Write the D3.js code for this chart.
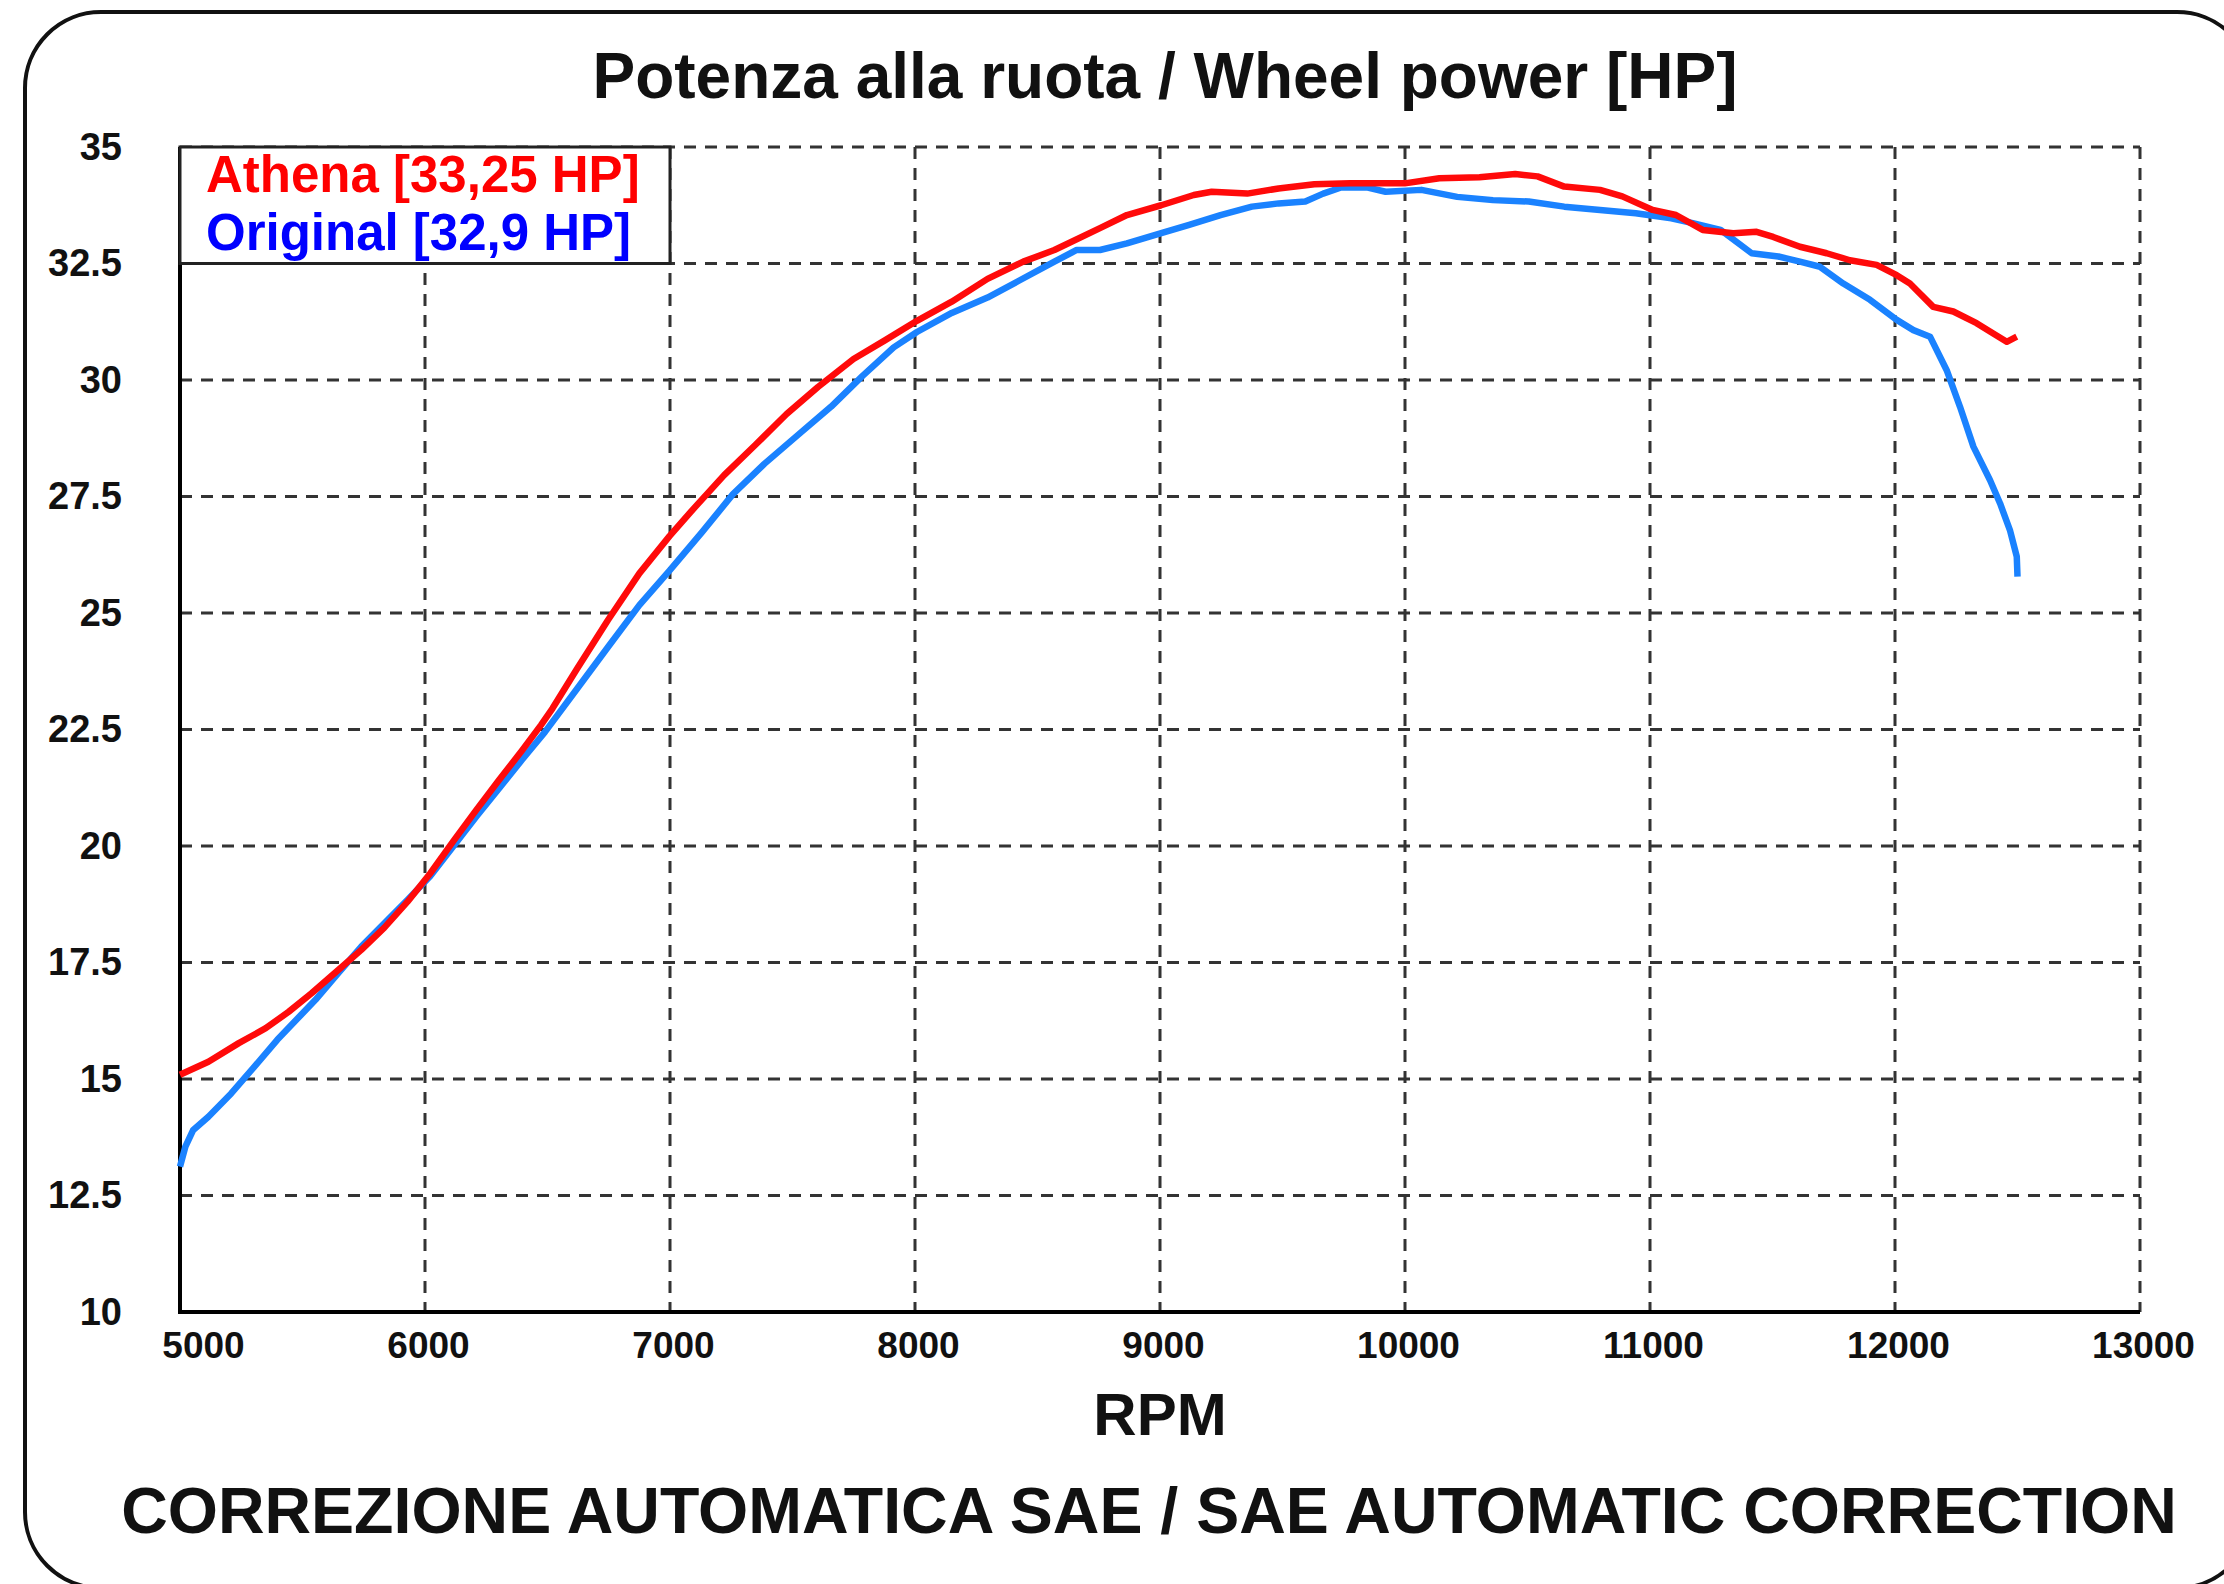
<!DOCTYPE html>
<html>
<head>
<meta charset="utf-8">
<script src="https://cdn.jsdelivr.net/npm/d3@7"></script>
<style>
  html, body { margin: 0; padding: 0; background: #fff; }
  svg { display: block; font-family: "Liberation Sans", Arial, sans-serif; }
</style>
</head>
<body>
<div class="chart"></div>
<script>
const fullWidth = 2224;
const fullHeight = 1584;
// plot area in pixels
let margin = { top: 147, right: 84, bottom: 272, left: 180 };
let width = fullWidth - margin.left - margin.right;
let height = fullHeight - margin.top - margin.bottom;

const xTicks = [5000, 6000, 7000, 8000, 9000, 10000, 11000, 12000, 13000];
const yTicks = [10, 12.5, 15, 17.5, 20, 22.5, 25, 27.5, 30, 32.5, 35];
const yTickLabels = ['10', '12.5', '15', '17.5', '20', '22.5', '25', '27.5', '30', '32.5', '35'];

const seriesNames = ['Athena [33,25 HP]', 'Original [32,9 HP]'];

// Athena (red)
const athenaRpm = [5000, 5116, 5240, 5350, 5443, 5537, 5646, 5740, 5834, 5928, 6021, 6115, 6209, 6303, 6396, 6474,
  6520, 6620, 6747, 6875, 6998, 7093, 7221, 7349, 7476, 7604, 7749, 7877, 8008, 8150, 8296, 8442, 8569, 8755,
  8865, 9005, 9138, 9211, 9356, 9484, 9630, 9776, 9999, 10140, 10304, 10450, 10541, 10650, 10796, 10887, 11011,
  11106, 11215, 11340, 11435, 11503, 11612, 11721, 11816, 11925, 12007, 12061, 12156, 12238, 12333, 12401, 12456, 12497];
const athenaHp = [15.09, 15.37, 15.77, 16.09, 16.44, 16.84, 17.34, 17.77, 18.25, 18.8, 19.41, 20.1, 20.77, 21.42, 22.05, 22.6,
  22.95, 23.8, 24.85, 25.85, 26.65, 27.22, 27.96, 28.61, 29.27, 29.85, 30.45, 30.85, 31.27, 31.68, 32.17, 32.54, 32.79, 33.26,
  33.54, 33.75, 33.97, 34.04, 34.0, 34.11, 34.2, 34.22, 34.22, 34.33, 34.35, 34.42, 34.37, 34.15, 34.08, 33.94, 33.65,
  33.54, 33.22, 33.15, 33.18, 33.07, 32.86, 32.72, 32.57, 32.47, 32.25, 32.07, 31.57, 31.47, 31.22, 31.0, 30.82, 30.93];

// Original (blue)
const originalRpm = [5000, 5022, 5053, 5116, 5209, 5303, 5397, 5475, 5553, 5646, 5740, 5834, 5928, 6021, 6115, 6209, 6303,
  6396, 6490, 6620, 6747, 6875, 6998, 7130, 7257, 7385, 7531, 7658, 7786, 7913, 8008, 8150, 8296, 8424, 8569, 8660,
  8755, 8865, 9005, 9119, 9247, 9375, 9484, 9593, 9666, 9739, 9848, 9921, 10067, 10213, 10359, 10505, 10650, 10796,
  10942, 11087, 11179, 11288, 11415, 11524, 11612, 11694, 11789, 11898, 12007, 12075, 12143, 12211, 12265, 12320,
  12388, 12429, 12469, 12497, 12500];
const originalHp = [13.12, 13.55, 13.9, 14.19, 14.69, 15.26, 15.84, 16.27, 16.7, 17.27, 17.84, 18.34, 18.84, 19.35, 19.99, 20.63, 21.24,
  21.85, 22.45, 23.37, 24.27, 25.17, 25.91, 26.73, 27.55, 28.2, 28.86, 29.43, 30.09, 30.7, 31.03, 31.44, 31.77, 32.13, 32.54, 32.79,
  32.79, 32.93, 33.15, 33.33, 33.54, 33.72, 33.79, 33.83, 34.0, 34.13, 34.13, 34.04, 34.08, 33.93, 33.86, 33.83, 33.72, 33.65,
  33.58, 33.47, 33.36, 33.22, 32.72, 32.65, 32.54, 32.43, 32.07, 31.72, 31.29, 31.07, 30.93, 30.21, 29.43, 28.57,
  27.85, 27.35, 26.78, 26.21, 25.78];

let svg = d3.select('.chart')
  .append('svg')
  .attr('width', fullWidth)
  .attr('height', fullHeight);

// outer frame with rounded corners (right/bottom run past the picture)
svg.append('rect')
  .attr('x', 25)
  .attr('y', 12)
  .attr('width', 2228)
  .attr('height', 1576)
  .attr('rx', 76)
  .attr('ry', 76)
  .style('fill', 'none')
  .style('stroke', '#111')
  .style('stroke-width', 4);

let x = d3.scaleLinear().domain([5000, 13000]).range([0, width]);
let y = d3.scaleLinear().domain([10, 35]).range([height, 0]);

let g = svg.append('g')
  .attr('transform', `translate(${margin.left}, ${margin.top})`);

// dashed grid
g.selectAll('.hgrid')
  .data(yTicks.slice(1))
  .enter()
  .append('line')
  .attr('class', 'hgrid')
  .attr('x1', 0)
  .attr('x2', width)
  .attr('y1', d => y(d))
  .attr('y2', d => y(d))
  .style('stroke', '#333')
  .style('stroke-width', 3)
  .style('stroke-dasharray', '12,9');

g.selectAll('.vgrid')
  .data(xTicks.slice(1))
  .enter()
  .append('line')
  .attr('class', 'vgrid')
  .attr('x1', d => x(d))
  .attr('x2', d => x(d))
  .attr('y1', 0)
  .attr('y2', height)
  .style('stroke', '#333')
  .style('stroke-width', 3)
  .style('stroke-dasharray', '12,9');

// axes
let xAxis = g.append('g')
  .attr('transform', `translate(0, ${height})`)
  .call(d3.axisBottom(x).tickValues(xTicks).tickFormat(d3.format('d')).tickSize(0).tickPadding(20));

let yAxis = g.append('g')
  .call(d3.axisLeft(y).tickValues(yTicks).tickFormat((d, i) => yTickLabels[i]).tickSize(0).tickPadding(58));

[xAxis, yAxis].forEach(ax => {
  ax.select('.domain').remove();
  ax.selectAll('text')
    .style('font-family', '"Liberation Sans", Arial, sans-serif')
    .style('font-weight', 'bold')
    .style('fill', '#111');
});
xAxis.selectAll('text')
  .style('font-size', '37px')
  .attr('dx', (d, i) => i === 0 ? 23 : 3);
yAxis.selectAll('text')
  .style('font-size', '38px');

g.append('line')
  .attr('x1', 0).attr('x2', 0)
  .attr('y1', 0).attr('y2', height)
  .style('stroke', '#000')
  .style('stroke-width', 4);
g.append('line')
  .attr('x1', -2).attr('x2', width)
  .attr('y1', height).attr('y2', height)
  .style('stroke', '#000')
  .style('stroke-width', 4);

// legend box (drawn under the curves)
let legend = g.append('g');
legend.append('rect')
  .attr('x', 0)
  .attr('y', 0)
  .attr('width', x(7000))
  .attr('height', y(32.5))
  .style('fill', '#fff')
  .style('stroke', '#222')
  .style('stroke-width', 3);
legend.selectAll('text')
  .data(seriesNames)
  .enter()
  .append('text')
  .attr('x', 26)
  .attr('y', (d, i) => 45 + i * 58)
  .style('font-size', '51px')
  .style('font-weight', 'bold')
  .style('fill', (d, i) => i === 0 ? '#ff0000' : '#0000ff')
  .text(d => d);

// curves
let line = d3.line()
  .x(d => x(d[0]))
  .y(d => y(d[1]));

let original = originalRpm.map((r, i) => [r, originalHp[i]]);
let athena = athenaRpm.map((r, i) => [r, athenaHp[i]]);

g.append('path')
  .datum(original)
  .attr('d', line)
  .style('fill', 'none')
  .style('stroke', '#1a82ff')
  .style('stroke-width', 6.5)
  .style('stroke-linejoin', 'round');

g.append('path')
  .datum(athena)
  .attr('d', line)
  .style('fill', 'none')
  .style('stroke', '#ff0a0a')
  .style('stroke-width', 6.5)
  .style('stroke-linejoin', 'round');

// texts
svg.append('text')
  .attr('x', 1165)
  .attr('y', 98)
  .style('text-anchor', 'middle')
  .style('font-size', '64px')
  .style('font-weight', 'bold')
  .style('fill', '#111')
  .text('Potenza alla ruota / Wheel power [HP]');

svg.append('text')
  .attr('x', 1160)
  .attr('y', 1435)
  .style('text-anchor', 'middle')
  .style('font-size', '60px')
  .style('font-weight', 'bold')
  .style('fill', '#111')
  .text('RPM');

svg.append('text')
  .attr('x', 1149)
  .attr('y', 1533)
  .style('text-anchor', 'middle')
  .style('font-size', '64.5px')
  .style('font-weight', 'bold')
  .style('fill', '#111')
  .text('CORREZIONE AUTOMATICA SAE / SAE AUTOMATIC CORRECTION');
</script>
</body>
</html>
